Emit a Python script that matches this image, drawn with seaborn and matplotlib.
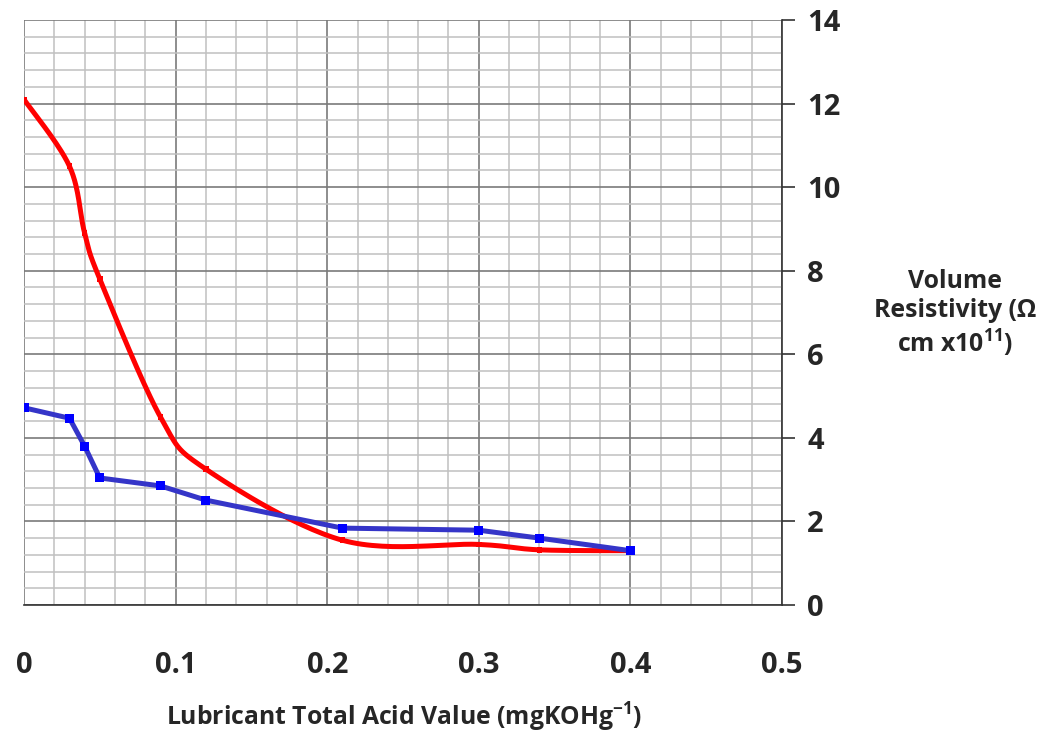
import numpy as np
import pandas as pd
import matplotlib
matplotlib.use("Agg")
import matplotlib.pyplot as plt
import seaborn as sns
from matplotlib.ticker import MultipleLocator, FixedLocator

# ---- data ----
acid_value = [0.0, 0.03, 0.04, 0.05, 0.09, 0.12, 0.21, 0.30, 0.34, 0.40]
red_resistivity = [12.1, 10.5, 8.9, 7.8, 4.5, 3.25, 1.55, 1.45, 1.32, 1.30]
blue_resistivity = [4.72, 4.47, 3.8, 3.04, 2.85, 2.51, 1.84, 1.79, 1.60, 1.30]
x_ticks = [0, 0.1, 0.2, 0.3, 0.4, 0.5]
x_tick_labels = ["0", "0.1", "0.2", "0.3", "0.4", "0.5"]
y_ticks = [0, 2, 4, 6, 8, 10, 12, 14]
y_tick_labels = ["0", "2", "4", "6", "8", "10", "12", "14"]

FONT = "Open Sans"
sns.set_style("white")
plt.rcParams["font.family"] = [FONT, "DejaVu Sans"]
plt.rcParams["mathtext.fontset"] = "custom"
plt.rcParams["mathtext.rm"] = FONT + ":bold"
plt.rcParams["mathtext.it"] = FONT + ":bold"
plt.rcParams["mathtext.bf"] = FONT + ":bold"
plt.rcParams["mathtext.default"] = "bf"

fig = plt.figure(figsize=(10.42, 7.33), dpi=100)
ax = fig.add_axes([24 / 1042, 1 - 605 / 733, (782 - 24) / 1042, (605 - 20) / 733])


def smooth_curve(xs, ys, sx, sy, n=30):
    """Excel-like smoothed line (Catmull-Rom Bezier) computed in screen-scaled space."""
    px = np.asarray(xs, float) * sx
    py = np.asarray(ys, float) * sy
    P = np.column_stack([px, py])
    out = [P[0]]
    for i in range(len(P) - 1):
        p0 = P[i - 1] if i > 0 else P[i]
        p1 = P[i]
        p2 = P[i + 1]
        p3 = P[i + 2] if i + 2 < len(P) else P[i + 1]
        c1 = p1 + (p2 - p0) / 6.0
        c2 = p2 - (p3 - p1) / 6.0
        t = np.linspace(0, 1, n)[1:, None]
        seg = ((1 - t) ** 3) * p1 + 3 * ((1 - t) ** 2) * t * c1 + 3 * (1 - t) * t ** 2 * c2 + t ** 3 * p2
        out.extend(seg)
    out = np.array(out)
    return out[:, 0] / sx, out[:, 1] / sy


# screen scale factors (pixels per data unit)
sx, sy = 758 / 0.5, 585 / 14
rx, ry = smooth_curve(acid_value, red_resistivity, sx, sy)
red_curve = pd.DataFrame({"x": rx, "y": ry})

blue_df = pd.DataFrame({"x": acid_value, "y": blue_resistivity})
red_df = pd.DataFrame({"x": acid_value, "y": red_resistivity})

sns.lineplot(data=red_curve, x="x", y="y", sort=False, color="#FF0000", lw=3.6, ax=ax, zorder=4)
sns.scatterplot(data=red_df, x="x", y="y", marker="s", s=16, color="#FF0000", edgecolor="none", ax=ax, zorder=5)
sns.lineplot(data=blue_df, x="x", y="y", sort=False, color="#3535C8", lw=3.6, ax=ax, zorder=6)
sns.scatterplot(data=blue_df, x="x", y="y", marker="s", s=42, color="#0000FF", edgecolor="none", ax=ax, zorder=7)

ax.set_xlim(0, 0.5)
ax.set_ylim(0, 14)
ax.xaxis.set_major_locator(FixedLocator(x_ticks))
ax.set_xticklabels(x_tick_labels)
ax.yaxis.set_major_locator(FixedLocator(y_ticks))
ax.set_yticklabels(y_tick_labels)
ax.xaxis.set_minor_locator(MultipleLocator(0.02))
ax.yaxis.set_minor_locator(MultipleLocator(0.4))
ax.yaxis.tick_right()

ax.grid(which="minor", color="#C0C0C0", lw=1.1, zorder=0)
ax.grid(which="major", color="#7A7A7A", lw=1.2, zorder=1)
ax.set_axisbelow(True)

for s in ["top", "left"]:
    ax.spines[s].set_visible(False)
for s in ["bottom", "right"]:
    ax.spines[s].set_color("#333333")
    ax.spines[s].set_linewidth(1.2)

ax.tick_params(axis="y", which="major", direction="out", length=9, width=1.2, color="#333333",
               pad=9, labelsize=21, right=True, left=False)
ax.tick_params(axis="x", which="major", direction="out", length=9, width=1.2, color="#333333",
               pad=24, labelsize=21)
ax.tick_params(which="minor", length=0)
for lab in ax.get_xticklabels() + ax.get_yticklabels():
    lab.set_fontweight("bold")

ax.set_xlabel("")
ax.set_ylabel("")

fig.text(404 / 1042, 1 - 717 / 733, r"Lubricant Total Acid Value (mgKOHg$^{-1}$)",
         ha="center", va="center", fontsize=17.8, fontweight="bold")
fig.text(955 / 1042, 1 - 314 / 733, "Volume\nResistivity (Ω\ncm x10$^{11}$)",
         ha="center", va="center", multialignment="center", fontsize=17.8, fontweight="bold",
         linespacing=1.2)

fig.savefig("out.png", dpi=100)
